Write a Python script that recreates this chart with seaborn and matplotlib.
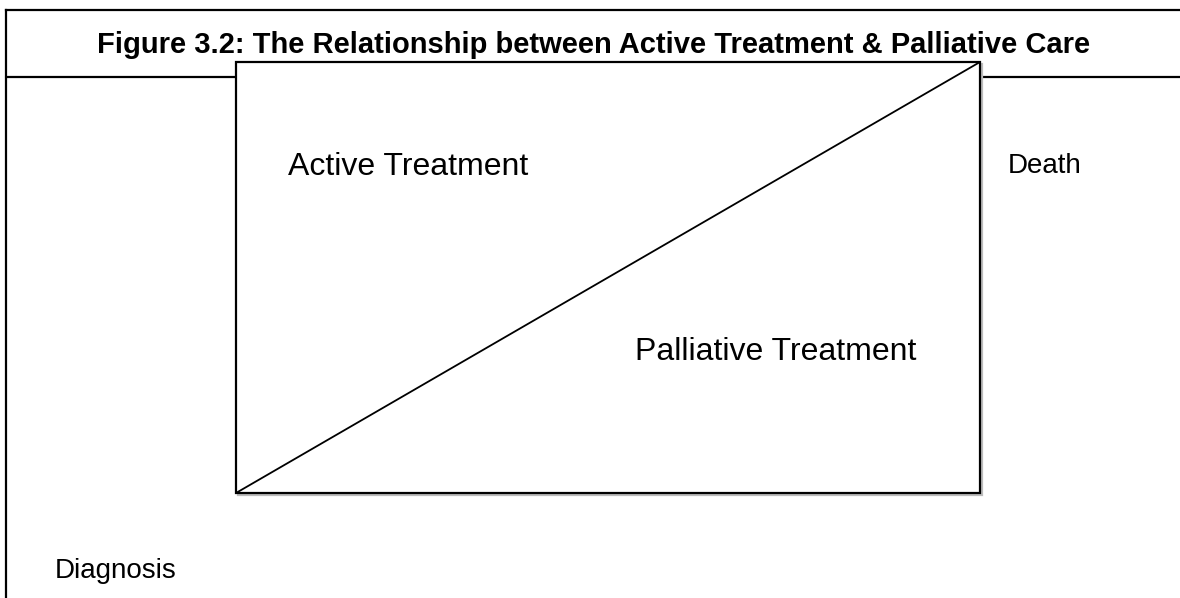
import matplotlib
matplotlib.use("Agg")
import matplotlib.pyplot as plt
import seaborn as sns
import pandas as pd
from matplotlib.patches import Rectangle

sns.set_theme(style="white")
plt.rcParams['font.family'] = ['Liberation Sans', 'DejaVu Sans']

# Diagram content
title = "Figure 3.2: The Relationship between Active Treatment & Palliative Care"
labels = ["Active Treatment", "Palliative Treatment", "Death", "Diagnosis"]
label_x = [288, 635, 1008, 55]
label_y = [175, 360, 173, 578]
label_size = [23, 23, 20, 20]

# Frame lines (pixel space)
frame_left = 6
frame_top = 10
header_line_y = 77

# Box and diagonal
box_x = [236, 980]
box_y = [62, 493]
diag = pd.DataFrame({"x": [box_x[0], box_x[1]], "y": [box_y[1], box_y[0]]})

W, H = 1180, 598
fig = plt.figure(figsize=(11.8, 5.98), dpi=100)
ax = fig.add_axes([0, 0, 1, 1])
ax.set_xlim(0, W)
ax.set_ylim(H, 0)
ax.axis("off")

lw = 1.6
ax.plot([frame_left, W], [frame_top, frame_top], color="black", lw=lw, solid_capstyle="projecting")
ax.plot([frame_left, frame_left], [frame_top, H], color="black", lw=lw, solid_capstyle="projecting")
ax.plot([frame_left, W], [header_line_y, header_line_y], color="black", lw=lw, zorder=1)

# shadow
ax.add_patch(Rectangle((box_x[0] + 1.5, box_y[0] + 1.5), box_x[1] - box_x[0], box_y[1] - box_y[0],
                       facecolor="none", edgecolor="#bbbbbb", lw=lw, zorder=2))
ax.add_patch(Rectangle((box_x[0], box_y[0]), box_x[1] - box_x[0], box_y[1] - box_y[0],
                       facecolor="white", edgecolor="black", lw=lw, zorder=3))
sns.lineplot(data=diag, x="x", y="y", ax=ax, color="black", lw=1.3, zorder=4, sort=False)
ax.set_xlim(0, W)
ax.set_ylim(H, 0)
ax.axis("off")

ax.text(594, 53, title, ha="center", va="baseline", fontsize=21, fontweight="bold",
        color="black", zorder=5)
for t, x, y, s in zip(labels, label_x, label_y, label_size):
    ax.text(x, y, t, ha="left", va="baseline", fontsize=s, color="black", zorder=5)

fig.savefig("out.png", dpi=100)
